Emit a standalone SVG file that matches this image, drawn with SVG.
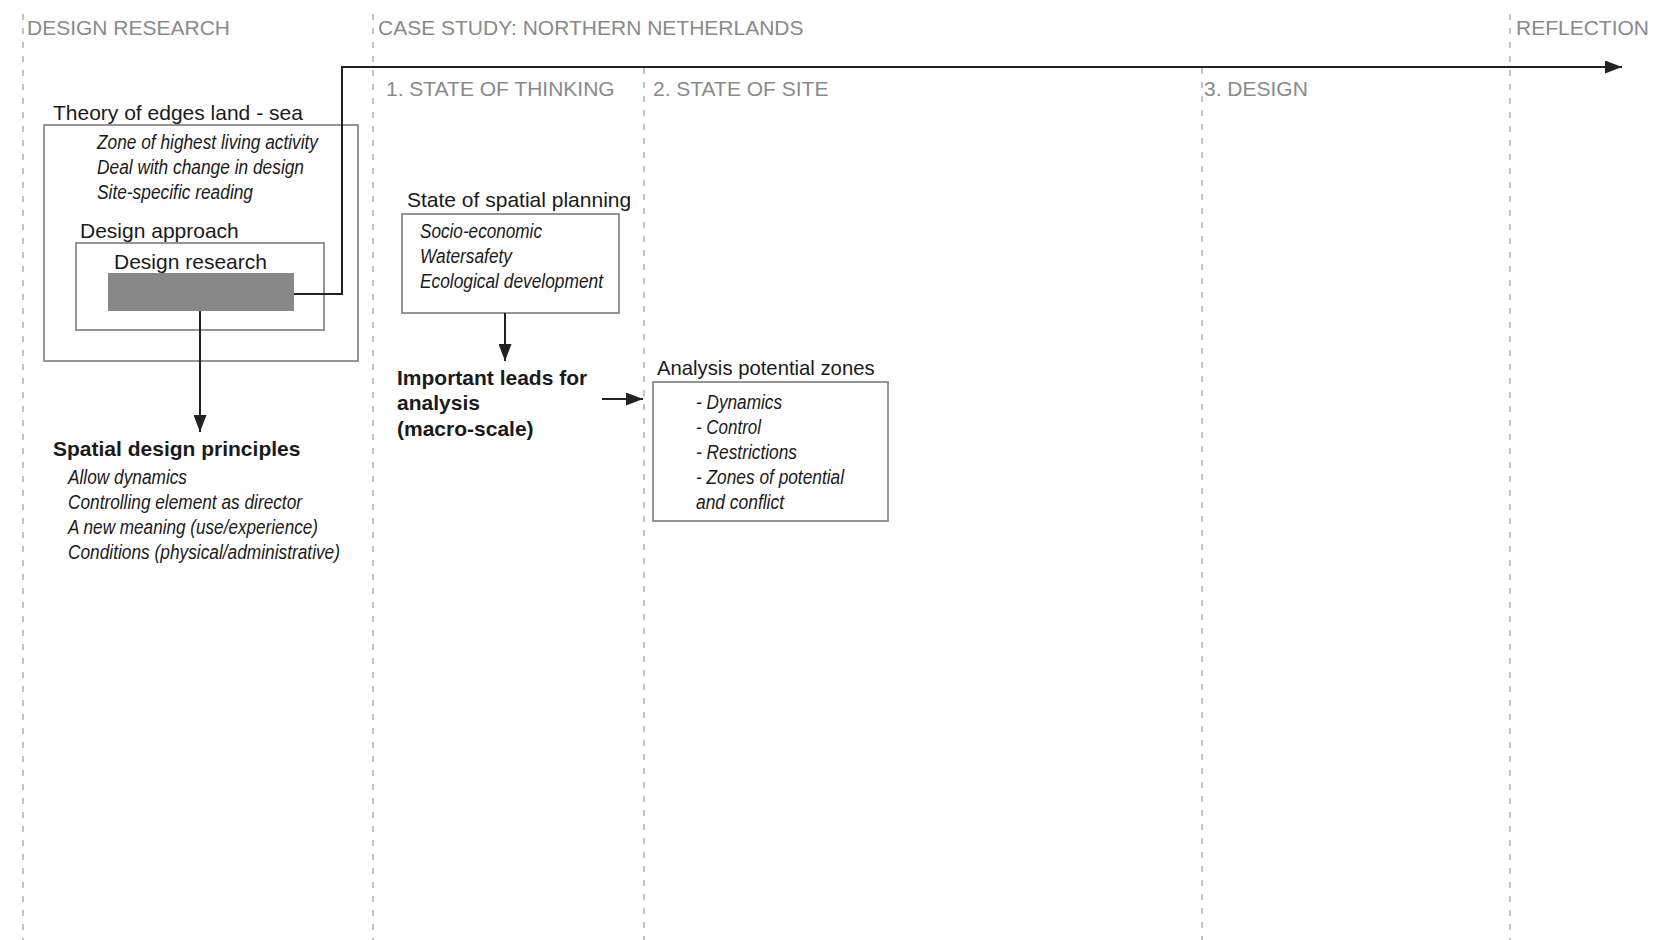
<svg xmlns="http://www.w3.org/2000/svg" width="1656" height="940" viewBox="0 0 1656 940">
<defs>
<marker id="ah" markerUnits="userSpaceOnUse" markerWidth="17" markerHeight="13" refX="17" refY="6.5" orient="auto">
<path d="M0,0 L17,6.5 L0,13 z" fill="#222"/>
</marker>
</defs>
<style>
text{font-family:"Liberation Sans",Arial,sans-serif}
.hd{font-size:21px;fill:#8a8a8a}
.lb{font-size:21px;fill:#1a1a1a}
.bd{font-size:21px;font-weight:bold;fill:#1a1a1a}
.it{font-family:"Liberation Sans Narrow","Liberation Sans",Arial,sans-serif;font-size:20.5px;font-style:italic;fill:#1a1a1a}
.dash{stroke:#9a9a9a;stroke-width:1.2;stroke-dasharray:6 8;fill:none}
.box{fill:#fff;stroke:#8a8a8a;stroke-width:1.8}
.con{stroke:#222;stroke-width:2;fill:none}
</style>
<rect width="1656" height="940" fill="#fff"/>

<g id="phases">
<line class="dash" x1="23" y1="14" x2="23" y2="940"/>
<line class="dash" x1="373" y1="14" x2="373" y2="940"/>
<line class="dash" x1="644" y1="68" x2="644" y2="940"/>
<line class="dash" x1="1202" y1="68" x2="1202" y2="940"/>
<line class="dash" x1="1510" y1="14" x2="1510" y2="940"/>
<text class="hd" x="27" y="35">DESIGN RESEARCH</text>
<text class="hd" x="378" y="35">CASE STUDY: NORTHERN NETHERLANDS</text>
<text class="hd" x="1516" y="35">REFLECTION</text>
<text class="hd" x="386" y="96">1. STATE OF THINKING</text>
<text class="hd" x="653" y="96">2. STATE OF SITE</text>
<text class="hd" x="1204" y="96">3. DESIGN</text>
</g>

<g id="theory">
<rect class="box" x="44" y="125" width="314" height="236"/>
<text class="lb" x="53" y="120">Theory of edges land - sea</text>
<text class="it" x="97" y="149" textLength="221" lengthAdjust="spacingAndGlyphs">Zone of highest living activity</text>
<text class="it" x="97" y="174" textLength="207" lengthAdjust="spacingAndGlyphs">Deal with change in design</text>
<text class="it" x="97" y="199" textLength="156" lengthAdjust="spacingAndGlyphs">Site-specific reading</text>
</g>

<g id="approach">
<rect class="box" x="76" y="243" width="248" height="87"/>
<text class="lb" x="80" y="238">Design approach</text>
</g>

<g id="research">
<text class="lb" x="114" y="269">Design research</text>
<rect x="108" y="273" width="186" height="38" fill="#888"/>
</g>

<g id="principles">
<text class="bd" x="53" y="456">Spatial design principles</text>
<text class="it" x="68" y="484" textLength="119" lengthAdjust="spacingAndGlyphs">Allow dynamics</text>
<text class="it" x="68" y="509" textLength="234" lengthAdjust="spacingAndGlyphs">Controlling element as director</text>
<text class="it" x="68" y="534" textLength="250" lengthAdjust="spacingAndGlyphs">A new meaning (use/experience)</text>
<text class="it" x="68" y="559" textLength="272" lengthAdjust="spacingAndGlyphs">Conditions (physical/administrative)</text>
</g>

<g id="planning">
<rect class="box" x="402" y="214" width="217" height="99"/>
<text class="lb" x="407" y="207">State of spatial planning</text>
<text class="it" x="420" y="238" textLength="122" lengthAdjust="spacingAndGlyphs">Socio-economic</text>
<text class="it" x="420" y="263" textLength="92" lengthAdjust="spacingAndGlyphs">Watersafety</text>
<text class="it" x="420" y="288" textLength="183" lengthAdjust="spacingAndGlyphs">Ecological development</text>
</g>

<g id="leads">
<text class="bd" x="397" y="385">Important leads for</text>
<text class="bd" x="397" y="410">analysis</text>
<text class="bd" x="397" y="436">(macro-scale)</text>
</g>

<g id="zones">
<rect class="box" x="653" y="382" width="235" height="139"/>
<text class="lb" x="657" y="375" style="font-size:20.3px">Analysis potential zones</text>
<text class="it" x="696" y="409" textLength="86" lengthAdjust="spacingAndGlyphs">- Dynamics</text>
<text class="it" x="696" y="434" textLength="65" lengthAdjust="spacingAndGlyphs">- Control</text>
<text class="it" x="696" y="459" textLength="101" lengthAdjust="spacingAndGlyphs">- Restrictions</text>
<text class="it" x="696" y="484" textLength="148" lengthAdjust="spacingAndGlyphs">- Zones of potential</text>
<text class="it" x="696" y="509" textLength="88" lengthAdjust="spacingAndGlyphs">and conflict</text>
</g>

<g id="connectors">
<path class="con" d="M294,294 H342 V67 H1622" marker-end="url(#ah)"/>
<path class="con" d="M200,311 V432" marker-end="url(#ah)"/>
<path class="con" d="M505,313 V361" marker-end="url(#ah)"/>
<path class="con" d="M602,399 H643" marker-end="url(#ah)"/>
</g>
</svg>
